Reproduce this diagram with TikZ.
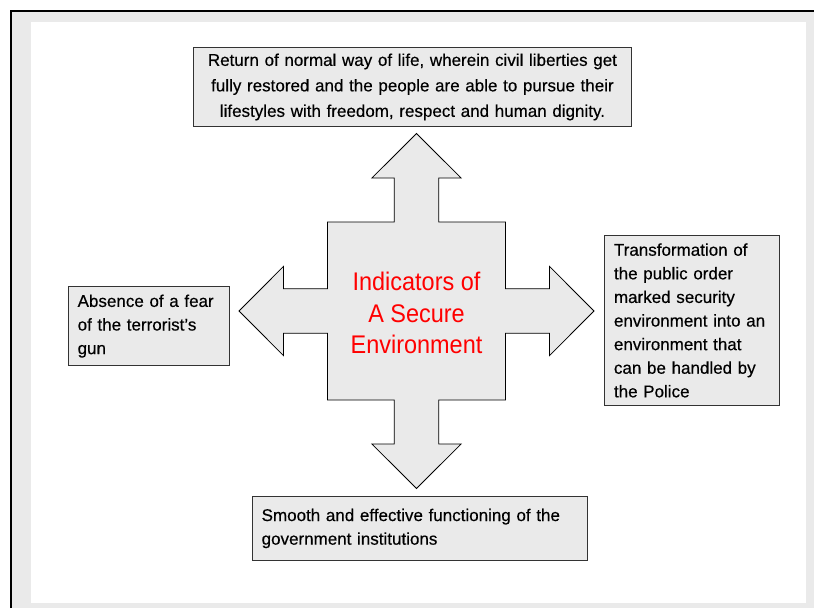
\documentclass[tikz,border=0pt]{standalone}
\usepackage{fontspec}
\setmainfont{Liberation Sans}
\newfontfamily\boxfont{Liberation Sans}[FakeBold=0.4]
\newfontfamily\corefont{Liberation Sans}[FakeStretch=0.92]
\usepackage{xcolor}
\usepackage{tikz}
\usetikzlibrary{calc, positioning}
\definecolor{panelgray}{HTML}{EAEAEA}
\definecolor{boxgray}{HTML}{EAEAEA}
\tikzset{
    boxnode/.style = {draw=black!80, fill=boxgray, rectangle, line width=0.9pt, anchor=north west,
      inner xsep=9.5pt, inner ysep=0pt, font=\boxfont\fontsize{17}{23.6}\selectfont},
    centernode/.style = {draw=none, fill=none, rectangle, text=red, align=center,
      inner sep=0pt, font=\corefont\fontsize{25.5}{31.5}\selectfont},
    crossshape/.style = {draw=black, fill=boxgray, line width=0.8pt, line join=miter}
}

\begin{document}
\begin{tikzpicture}[x=1pt, y=-1pt]
    \useasboundingbox (0,0) rectangle (814,608);
    % frame and page
    \fill[panelgray] (12,12) rectangle (814,608);
    \fill[white] (31,22) rectangle (806,603);
    \draw[line width=2pt] (11,608) -- (11,11) -- (814,11);

    % four-way arrow
    \draw[crossshape, shift={(416.5,311)}] (0,-177.5) -- (44.6,-133) -- (22.3,-133) -- (22.3,-89)
      -- (89,-89) -- (89,-22.3) -- (133,-22.3) -- (133,-44.6) -- (177.5,0)
      -- (133,44.6) -- (133,22.3) -- (89,22.3) -- (89,89) -- (22.3,89) -- (22.3,133)
      -- (44.6,133) -- (0,177.5) -- (-44.6,133) -- (-22.3,133) -- (-22.3,89)
      -- (-89,89) -- (-89,22.3) -- (-133,22.3) -- (-133,44.6) -- (-177.5,0)
      -- (-133,-44.6) -- (-133,-22.3) -- (-89,-22.3) -- (-89,-89) -- (-22.3,-89)
      -- (-22.3,-133) -- (-44.6,-133) -- cycle;
    \node [centernode, name=core] at (416.5,313) {Indicators of\\A Secure\\Environment};

    % indicator boxes
    \node [boxnode, name=life, text width=419pt, minimum height=79pt, align=center,
      font=\boxfont\fontsize{17}{25.5}\selectfont] at (193,47)
      {Return of normal way of life, wherein civil liberties get\\fully restored and the people are able to pursue their\\lifestyles with freedom, respect and human dignity.};
    \node [boxnode, name=fear, text width=142.6pt, minimum height=79.3pt, align=left] at (67.7,286)
      {Absence of a fear\\of the terrorist’s\\gun};
    \node [boxnode, name=police, text width=156.3pt, minimum height=170pt, align=left] at (604,235)
      {Transformation of\\the public order\\marked security\\environment into an\\environment that\\can be handled by\\the Police};
    \node [boxnode, name=gov, text width=316pt, minimum height=64pt, align=left] at (251.7,496)
      {Smooth and effective functioning of the\\government institutions};
\end{tikzpicture}
\end{document}
